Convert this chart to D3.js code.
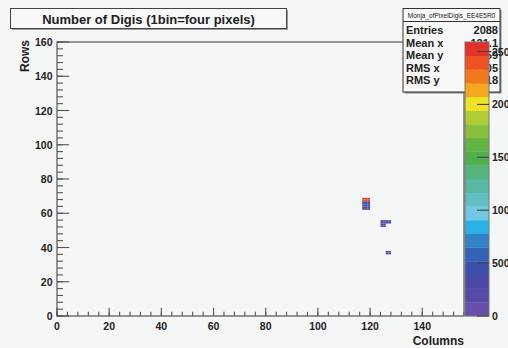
<!DOCTYPE html>
<html><head><meta charset="utf-8">
<script src="https://cdn.jsdelivr.net/npm/d3@7"></script>
<style>
html,body{margin:0;padding:0;background:#f5f6f6;}
svg{display:block;}
text{font-family:"Liberation Sans",Arial,Helvetica,sans-serif;}
</style></head>
<body>
<svg id="c" width="508" height="348"></svg>
<script>
// ---- data ----
const title = "Number of Digis (1bin=four pixels)";
const xTitle = "Columns";
const yTitle = "Rows";
const xDomain = [0, 156];
const yDomain = [0, 160];
const zDomain = [0, 2590];
const xTickValues = [0, 20, 40, 60, 80, 100, 120, 140];
const yTickValues = [0, 20, 40, 60, 80, 100, 120, 140, 160];
const zTickValues = [0, 500, 1000, 1500, 2000, 2500];
// filled bins (column, row, content)
const cellCols = [117,118,119, 117,118,119, 117,118,119, 117,118,119, 117,118,119, 117,118,119, 117,118,119, 124,125,126,127, 124,125,126,127, 124,125, 124,125, 126,127, 126,127];
const cellRows = [68,68,68, 67,67,67, 66,66,66, 65,65,65, 64,64,64, 63,63,63, 62,62,62, 55,55,55,55, 54,54,54,54, 53,53, 52,52, 37,37, 36,36];
const cellVals = [2560,2540,2520, 2380,2400,2360, 420,440,430, 380,390,370, 360,380,350, 340,350,330, 300,310,290, 350,360,340,300, 380,370,330,280, 360,340, 300,290, 260,250, 250,240];
// stats box
const statsTitle = "Monja_ofPixelDigis_EE4E5R0";
const statsLabels = ["Entries", "Mean x", "Mean y", "RMS x", "RMS y"];
const statsValues = ["2088", "121.1", "61.59", "3.305", "8.618"];
// palette colours, bottom to top (20 contour levels)
const paletteColors = ["#6a4eac","#5a4aa8","#4a4aa6","#3a50aa","#3462b4","#3282c8","#2ab2e8","#72c8e0","#62c0c4","#58b8a4",
                       "#56b47e","#50b050","#62b444","#88c03e","#b0cc36","#eee222","#f4a820","#f2781e","#ee5222","#e6302a"];

// ---- layout ----
const svg = d3.select("#c");
const L = 57, R = 464, T = 42, B = 316;
const x = d3.scaleLinear().domain(xDomain).range([L, R]);
const y = d3.scaleLinear().domain(yDomain).range([B, T]);
const color = d3.scaleQuantize().domain(zDomain).range(paletteColors);
const axisCol = "#555";
const txtCol = "#222";

// title box
const tb = svg.append("g");
tb.append("rect").attr("x", 12).attr("y", 10).attr("width", 276).attr("height", 20).attr("fill", "#9a9a9a");
tb.append("rect").attr("x", 10.5).attr("y", 8.5).attr("width", 276).attr("height", 20)
  .attr("fill", "#f8f8f8").attr("stroke", "#444").attr("stroke-width", 1);
tb.append("text").attr("x", 148.5).attr("y", 23.5).attr("text-anchor", "middle")
  .attr("font-size", 13).attr("font-weight", "bold").attr("fill", txtCol).text(title);

// cells
const cells = cellCols.map((c, i) => ({c, r: cellRows[i], v: cellVals[i]}));
svg.append("g").selectAll("rect").data(cells).join("rect")
  .attr("x", d => x(d.c)).attr("y", d => y(d.r + 1))
  .attr("width", d => x(d.c + 1) - x(d.c)).attr("height", d => y(d.r) - y(d.r + 1))
  .attr("fill", d => color(d.v));

// frame
svg.append("rect").attr("x", L).attr("y", T).attr("width", R - L).attr("height", B - T)
  .attr("fill", "none").attr("stroke", axisCol).attr("stroke-width", 1.2);

// x axis
const xMinor = d3.range(0, 157, 4);
const gx = svg.append("g").attr("stroke", axisCol).attr("stroke-width", 1.1);
gx.selectAll("line.mn").data(xMinor).join("line").attr("class", "mn")
  .attr("x1", d => x(d)).attr("x2", d => x(d)).attr("y1", B).attr("y2", B - 4.2);
gx.selectAll("line.mj").data(xTickValues).join("line").attr("class", "mj")
  .attr("x1", d => x(d)).attr("x2", d => x(d)).attr("y1", B).attr("y2", B - 8.2);
svg.append("g").selectAll("text").data(xTickValues).join("text")
  .attr("x", d => x(d)).attr("y", 330).attr("text-anchor", "middle")
  .attr("font-size", 10.5).attr("font-weight", "bold").attr("fill", txtCol).text(d => d3.format("d")(d));

// y axis
const yMinor = d3.range(0, 161, 4);
const gy = svg.append("g").attr("stroke", axisCol).attr("stroke-width", 1.1);
gy.selectAll("line.mn").data(yMinor).join("line").attr("class", "mn")
  .attr("x1", L).attr("x2", L + 6).attr("y1", d => y(d)).attr("y2", d => y(d));
gy.selectAll("line.mj").data(yTickValues).join("line").attr("class", "mj")
  .attr("x1", L).attr("x2", L + 12.2).attr("y1", d => y(d)).attr("y2", d => y(d));
svg.append("g").selectAll("text").data(yTickValues).join("text")
  .attr("x", 52.5).attr("y", d => y(d) + 4).attr("text-anchor", "end")
  .attr("font-size", 10.5).attr("font-weight", "bold").attr("fill", txtCol).text(d => d3.format("d")(d));

// axis titles
svg.append("text").attr("x", R).attr("y", 345).attr("text-anchor", "end")
  .attr("font-size", 12).attr("font-weight", "bold").attr("fill", txtCol).text(xTitle);
svg.append("text").attr("transform", `translate(29,40) rotate(-90)`).attr("text-anchor", "end")
  .attr("font-size", 12).attr("font-weight", "bold").attr("fill", txtCol).text(yTitle);

// stats box
const sb = svg.append("g");
const SX = 403, SY = 8.5, SW = 97, SH = 83.5;
sb.append("rect").attr("x", SX + 1.5).attr("y", SY + 1.5).attr("width", SW).attr("height", SH).attr("fill", "#888");
sb.append("rect").attr("x", SX).attr("y", SY).attr("width", SW).attr("height", SH)
  .attr("fill", "#f8f8f8").attr("stroke", "#333").attr("stroke-width", 1);
sb.append("line").attr("x1", SX).attr("x2", SX + SW).attr("y1", 21.5).attr("y2", 21.5).attr("stroke", "#333");
sb.append("text").attr("x", SX + SW / 2).attr("y", 17.5).attr("text-anchor", "middle")
  .attr("font-size", 6.5).attr("fill", txtCol).text(statsTitle);
const rowY = [34, 46.5, 59, 71.5, 84];
sb.selectAll("text.l").data(statsLabels).join("text").attr("class", "l")
  .attr("x", SX + 3).attr("y", (d, i) => rowY[i]).attr("font-size", 11).attr("font-weight", "bold")
  .attr("fill", txtCol).text(d => d);
sb.selectAll("text.v").data(statsValues).join("text").attr("class", "v")
  .attr("x", SX + SW - 2).attr("y", (d, i) => rowY[i]).attr("text-anchor", "end")
  .attr("font-size", 11).attr("font-weight", "bold").attr("fill", txtCol).text(d => d);

// palette
const PX = 465, PW = 24;
const z = d3.scaleLinear().domain(zDomain).range([B, T]);
const step = (zDomain[1] - zDomain[0]) / paletteColors.length;
svg.append("g").selectAll("rect").data(paletteColors).join("rect")
  .attr("x", PX).attr("width", PW)
  .attr("y", (d, i) => z(zDomain[0] + (i + 1) * step))
  .attr("height", (d, i) => z(zDomain[0] + i * step) - z(zDomain[0] + (i + 1) * step) + 0.3)
  .attr("fill", d => d);
svg.append("rect").attr("x", PX).attr("y", T).attr("width", PW).attr("height", B - T)
  .attr("fill", "none").attr("stroke", "#777").attr("stroke-width", 1);
svg.append("g").selectAll("line").data(zTickValues).join("line")
  .attr("x1", PX + PW).attr("x2", PX + PW - 12).attr("y1", d => z(d)).attr("y2", d => z(d))
  .attr("stroke", "#444").attr("stroke-width", 1.1);
svg.append("g").selectAll("text").data(zTickValues).join("text")
  .attr("x", PX + PW + 3).attr("y", d => z(d) + 4).attr("font-size", 10.5).attr("font-weight", "bold").attr("fill", txtCol)
  .text(d => d3.format("d")(d));
</script>
</body></html>
